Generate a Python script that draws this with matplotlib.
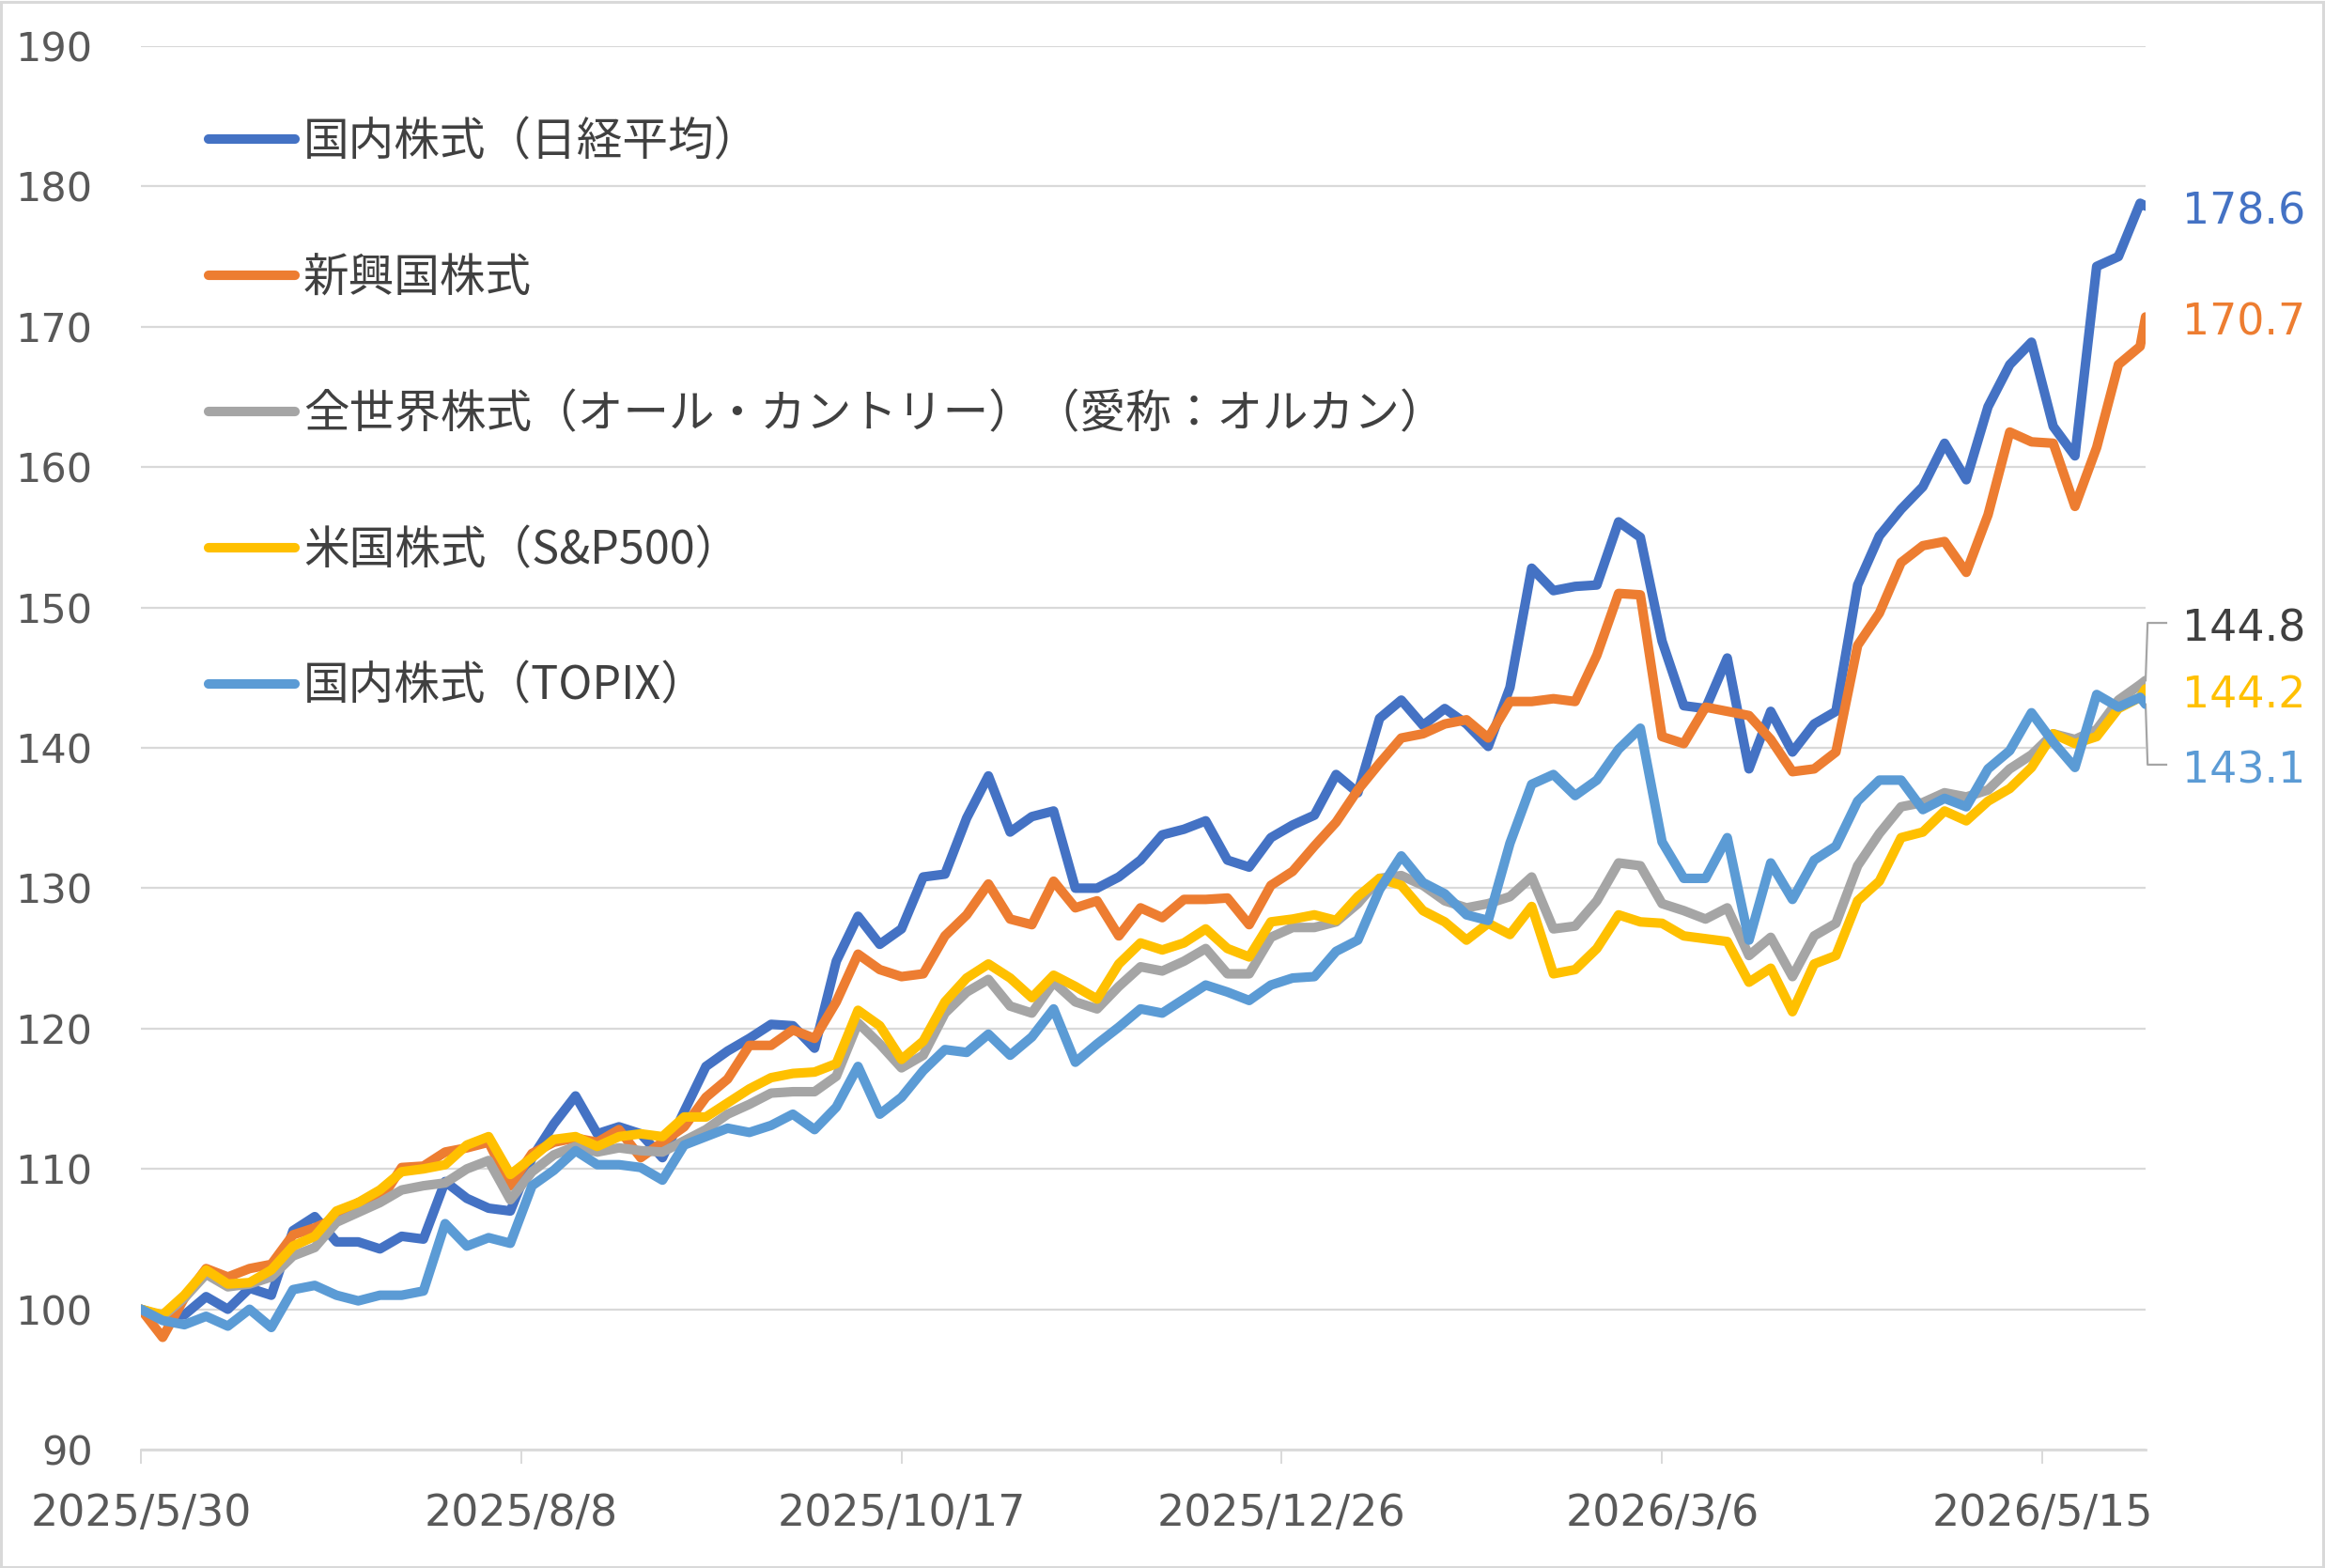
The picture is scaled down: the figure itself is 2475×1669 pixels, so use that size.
import numpy as np
import pandas as pd
import matplotlib
matplotlib.use("Agg")
import matplotlib.pyplot as plt
import matplotlib.transforms as mtrans
from matplotlib.font_manager import FontProperties
from matplotlib.patches import Rectangle

# ---------------- data ----------------
start_date = "2025-05-30"
end_date = "2026-06-03"
dates = list(pd.date_range(start_date, periods=93, freq="4D")) + [pd.Timestamp(end_date)]

series_names = [
    "国内株式（日経平均）",
    "新興国株式",
    "全世界株式（オール・カントリー）（愛称：オルカン）",
    "米国株式（S&P500）",
    "国内株式（TOPIX）",
]

nikkei = [100, 99.5, 99.6, 100.9, 100.0, 101.5, 101.0, 105.6, 106.6, 104.8,
          104.8, 104.3, 105.2, 105.0, 109.1, 107.9, 107.2, 107.0, 110.8, 113.2,
          115.2, 112.5, 113.0, 112.5, 110.8, 114.1, 117.3, 118.4, 119.3, 120.3,
          120.2, 118.6, 124.8, 128.0, 126.0, 127.1, 130.8, 131.0, 135.0, 138.0,
          134.0, 135.1, 135.5, 130.0, 130.0, 130.8, 132.0, 133.8, 134.2, 134.8,
          132.0, 131.5, 133.6, 134.5, 135.2, 138.1, 136.8, 142.1, 143.4, 141.6,
          142.8, 141.7, 140.1, 144.3, 152.8, 151.2, 151.5, 151.6, 156.1, 155.0,
          147.6, 143.0, 142.8, 146.4, 138.5, 142.6, 139.7, 141.7, 142.6, 151.6,
          155.1, 157.0, 158.6, 161.7, 159.1, 164.3, 167.3, 168.9, 162.9, 160.8,
          174.3, 175.0, 178.8, 178.6]

emerging = [100, 98.0, 100.8, 102.9, 102.3, 102.9, 103.2, 105.3, 105.8, 106.5,
            107.6, 107.7, 110.1, 110.2, 111.2, 111.5, 111.9, 108.8, 111.1, 111.9,
            112.2, 111.9, 112.8, 110.8, 111.9, 113.0, 115.1, 116.4, 118.8, 118.8,
            119.9, 119.3, 121.9, 125.3, 124.2, 123.7, 123.9, 126.6, 128.1, 130.3,
            127.8, 127.4, 130.5, 128.6, 129.1, 126.6, 128.6, 127.9, 129.2, 129.2,
            129.3, 127.4, 130.2, 131.2, 133.0, 134.7, 137.0, 138.9, 140.7, 141.0,
            141.7, 142.0, 140.7, 143.3, 143.3, 143.5, 143.3, 146.6, 151.0, 150.9,
            140.8, 140.3, 142.9, 142.6, 142.3, 140.6, 138.3, 138.5, 139.7, 147.3,
            149.6, 153.2, 154.4, 154.7, 152.5, 156.6, 162.5, 161.8, 161.7, 157.2,
            161.4, 167.3, 168.6, 170.7]

acwi = [100, 99.5, 100.8, 102.5, 101.6, 101.8, 102.3, 103.8, 104.4, 106.2,
        106.9, 107.6, 108.5, 108.8, 109.0, 110.0, 110.6, 107.8, 109.8, 111.0,
        111.6, 111.2, 111.5, 111.3, 111.2, 112.0, 112.8, 113.9, 114.6, 115.4,
        115.5, 115.5, 116.6, 120.4, 118.9, 117.2, 118.1, 121.1, 122.6, 123.5,
        121.6, 121.1, 123.3, 121.9, 121.4, 123.0, 124.4, 124.1, 124.8, 125.7,
        123.9, 123.9, 126.5, 127.2, 127.2, 127.6, 128.9, 130.7, 130.9, 130.2,
        129.1, 128.6, 128.9, 129.4, 130.8, 127.1, 127.3, 129.1, 131.8, 131.6,
        128.9, 128.4, 127.8, 128.6, 125.2, 126.5, 123.7, 126.6, 127.5, 131.6,
        133.9, 135.8, 136.1, 136.8, 136.5, 137.0, 138.5, 139.5, 141.0, 140.6,
        141.3, 143.4, 144.5, 144.8]

sp500 = [100, 99.6, 101.0, 102.8, 101.8, 101.9, 102.8, 104.5, 105.2, 107.0,
         107.6, 108.5, 109.8, 110.0, 110.3, 111.7, 112.3, 109.6, 110.8, 112.1,
         112.3, 111.6, 112.3, 112.5, 112.3, 113.7, 113.7, 114.7, 115.7, 116.5,
         116.8, 116.9, 117.5, 121.3, 120.2, 117.8, 119.1, 121.9, 123.6, 124.6,
         123.6, 122.2, 123.8, 123.0, 122.1, 124.6, 126.1, 125.6, 126.1, 127.1,
         125.7, 125.1, 127.6, 127.8, 128.1, 127.7, 129.4, 130.7, 130.2, 128.4,
         127.6, 126.3, 127.5, 126.7, 128.7, 123.9, 124.2, 125.7, 128.1, 127.6,
         127.5, 126.6, 126.4, 126.2, 123.3, 124.3, 121.2, 124.6, 125.2, 129.1,
         130.5, 133.6, 134.0, 135.5, 134.8, 136.2, 137.1, 138.6, 141.0, 140.3,
         140.8, 142.8, 143.6, 144.2]

topix = [100, 99.2, 98.9, 99.5, 98.8, 100.0, 98.7, 101.4, 101.7, 101.0,
         100.6, 101.0, 101.0, 101.3, 106.1, 104.5, 105.1, 104.7, 108.8, 109.9,
         111.3, 110.3, 110.3, 110.1, 109.2, 111.7, 112.3, 112.9, 112.6, 113.1,
         113.9, 112.8, 114.4, 117.3, 113.9, 115.1, 117.0, 118.5, 118.3, 119.6,
         118.1, 119.4, 121.4, 117.6, 118.9, 120.1, 121.4, 121.1, 122.1, 123.1,
         122.6, 122.0, 123.1, 123.6, 123.7, 125.5, 126.3, 129.9, 132.3, 130.4,
         129.6, 128.1, 127.7, 133.2, 137.4, 138.1, 136.6, 137.7, 139.9, 141.4,
         133.3, 130.7, 130.7, 133.6, 126.3, 131.8, 129.2, 132.0, 133.0, 136.2,
         137.7, 137.7, 135.6, 136.4, 135.8, 138.5, 139.8, 142.5, 140.4, 138.6,
         143.8, 142.9, 143.6, 143.1]

end_labels = ["178.6", "170.7", "144.8", "144.2", "143.1"]

tick_dates = ["2025-05-30", "2025-08-08", "2025-10-17", "2025-12-26", "2026-03-06", "2026-05-15"]
tick_labels = ["2025/5/30", "2025/8/8", "2025/10/17", "2025/12/26", "2026/3/6", "2026/5/15"]
y_ticks = [90, 100, 110, 120, 130, 140, 150, 160, 170, 180, 190]

# ---------------- style ----------------
colors = ["#4472C4", "#ED7D31", "#A5A5A5", "#FFC000", "#5B9BD5"]
label_colors = ["#4472C4", "#ED7D31", "#404040", "#FFC000", "#5B9BD5"]
label_y = [None, None, 148.9, None, 138.8]   # label placement (layout only)

W, H = 2475, 1669
fig = plt.figure(figsize=(W / 100, H / 100), dpi=100)
ax = fig.add_axes([150 / W, 1 - 1543 / H, (2284 - 150) / W, (1543 - 49) / H])

series = [nikkei, emerging, acwi, sp500, topix]
lines = []
for vals, c, name in zip(series, colors, series_names):
    ln, = ax.plot(dates, vals, color=c, lw=7.3, solid_capstyle="round",
                  solid_joinstyle="round", label=name, zorder=3)
    lines.append(ln)

ax.set_xlim(pd.Timestamp(start_date), pd.Timestamp(end_date))
ax.set_ylim(90, 190)
ax.set_yticks(y_ticks)
ax.set_yticklabels([str(v) for v in y_ticks])
ax.set_xticks([pd.Timestamp(d) for d in tick_dates])
ax.set_xticklabels(tick_labels)

ax.grid(axis="y", color="#D9D9D9", lw=1.6, zorder=0)
ax.grid(axis="x", visible=False)
for s in ["top", "right", "left"]:
    ax.spines[s].set_visible(False)
ax.spines["bottom"].set_color("#D9D9D9")
ax.spines["bottom"].set_linewidth(2.0)

ax.tick_params(axis="y", length=0, pad=37, labelsize=31, labelcolor="#595959")
ax.tick_params(axis="x", direction="out", length=11, width=1.4, color="#D9D9D9",
               pad=22, labelsize=33, labelcolor="#595959")

# end labels
txt_tr = mtrans.offset_copy(ax.transData, fig=fig, x=39, y=-7, units="dots")
x_end = dates[-1]
for i, (vals, lab, lc) in enumerate(zip(series, end_labels, label_colors)):
    ly = label_y[i] if label_y[i] is not None else vals[-1]
    ax.text(x_end, ly, lab, transform=txt_tr, ha="left", va="center",
            fontsize=33, color=lc, family="DejaVu Sans", clip_on=False)
    if label_y[i] is not None:
        ax.plot([x_end, x_end + pd.Timedelta(hours=9), x_end + pd.Timedelta(days=3.8)],
                [vals[-1], ly, ly], color="#A5A5A5", lw=1.6, clip_on=False, zorder=2)

# legend
leg_font = FontProperties(family=["Noto Sans CJK JP", "DejaVu Sans"], size=35)
leg = ax.legend(handles=lines, labels=series_names, loc="upper left",
                bbox_to_anchor=(222 / W, 1 - 127 / H), bbox_transform=fig.transFigure,
                frameon=False, prop=leg_font, handlelength=1.9, handletextpad=0.18,
                labelspacing=1.96, borderpad=0, borderaxespad=0)
for t in leg.get_texts():
    t.set_color("#404040")

# outer border
fig.patches.append(Rectangle((1 / W, 1 / H), 1 - 3 / W, 1 - 3 / H, transform=fig.transFigure,
                             fill=False, edgecolor="#D9D9D9", lw=2.2))

fig.savefig("out.png", dpi=100)
